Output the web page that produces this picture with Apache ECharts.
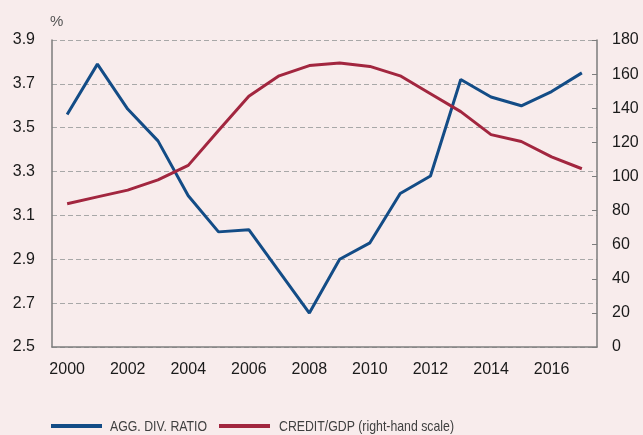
<!DOCTYPE html>
<html>
<head>
<meta charset="utf-8">
<script src="https://cdn.jsdelivr.net/npm/echarts@6/dist/echarts.min.js"></script>
<style>
html,body{margin:0;padding:0;background:#f8ecec;}
#chart{width:643px;height:435px;}
</style>
</head>
<body>
<div id="chart"></div>
<script>
var years = ['2000','2001','2002','2003','2004','2005','2006','2007','2008','2009','2010','2011','2012','2013','2014','2015','2016','2017'];
var aggDivRatio = [3.56,3.79,3.585,3.44,3.19,3.025,3.035,2.845,2.655,2.90,2.975,3.20,3.28,3.72,3.64,3.60,3.665,3.75];
var creditGdp = [84,88,92,98,106.5,127,147,159,165,166.5,164.5,159,148.5,138,124.5,120.5,111.5,104.5];
var leftTicks = {min:2.5, max:3.9, step:0.2};
var rightTicks = {min:0, max:180, step:20};
var seriesNames = ['AGG. DIV. RATIO','CREDIT/GDP (right-hand scale)'];
var seriesColors = ['#134c86','#a2263f'];
var unitLabel = '%';

var axisGray = '#7d7d7d';
var legendFont = '15px "Liberation Sans", Arial, sans-serif';
var chart = echarts.init(document.getElementById('chart'), null, {renderer:'canvas'});
chart.setOption({
  backgroundColor:'#f8ecec',
  animation:false,
  grid:{left:52,right:46,top:40,bottom:88,containLabel:false},
  graphic:[
    {type:'text',x:50,y:14,style:{text:unitLabel,fontSize:15,fill:'#555',fontFamily:'Liberation Sans, Arial, sans-serif'}},
    {type:'rect',shape:{x:51,y:424,width:51,height:4},style:{fill:seriesColors[0]}},
    {type:'text',x:110,y:427,scaleX:0.82,style:{text:seriesNames[0],font:legendFont,fill:'#404040',verticalAlign:'middle'}},
    {type:'rect',shape:{x:219,y:424,width:51,height:4},style:{fill:seriesColors[1]}},
    {type:'text',x:279,y:427,scaleX:0.82,style:{text:seriesNames[1],font:legendFont,fill:'#404040',verticalAlign:'middle'}}
  ],
  xAxis:{
    type:'category',data:years,boundaryGap:true,
    axisLine:{lineStyle:{color:axisGray,width:1.5}},
    axisTick:{inside:true,length:5,interval:0,lineStyle:{color:axisGray,width:1}},
    axisLabel:{interval:1,fontSize:16,color:'#1a1a1a',margin:15,fontFamily:'Liberation Sans, Arial, sans-serif'},
    splitLine:{show:false}
  },
  yAxis:[{
    type:'value',min:leftTicks.min,max:leftTicks.max,interval:leftTicks.step,
    axisLine:{show:true,lineStyle:{color:axisGray,width:1.5}},
    axisTick:{show:false},
    axisLabel:{fontSize:16,color:'#1a1a1a',margin:17,fontFamily:'Liberation Sans, Arial, sans-serif',formatter:function(v){return v.toFixed(1);}},
    splitLine:{show:true,lineStyle:{color:'#a8a8a8',type:[5,3],width:1}}
  },{
    type:'value',min:rightTicks.min,max:rightTicks.max,interval:rightTicks.step,position:'right',
    axisLine:{show:true,lineStyle:{color:axisGray,width:1.5}},
    axisTick:{show:true,inside:true,length:5,lineStyle:{color:axisGray,width:1}},
    axisLabel:{fontSize:16,color:'#1a1a1a',margin:15,fontFamily:'Liberation Sans, Arial, sans-serif'},
    splitLine:{show:false}
  }],
  series:[{
    name:seriesNames[0],type:'line',data:aggDivRatio,yAxisIndex:0,symbol:'none',
    lineStyle:{color:seriesColors[0],width:3},itemStyle:{color:seriesColors[0]}
  },{
    name:seriesNames[1],type:'line',data:creditGdp,yAxisIndex:1,symbol:'none',
    lineStyle:{color:seriesColors[1],width:3},itemStyle:{color:seriesColors[1]}
  }]
});
</script>
</body>
</html>
